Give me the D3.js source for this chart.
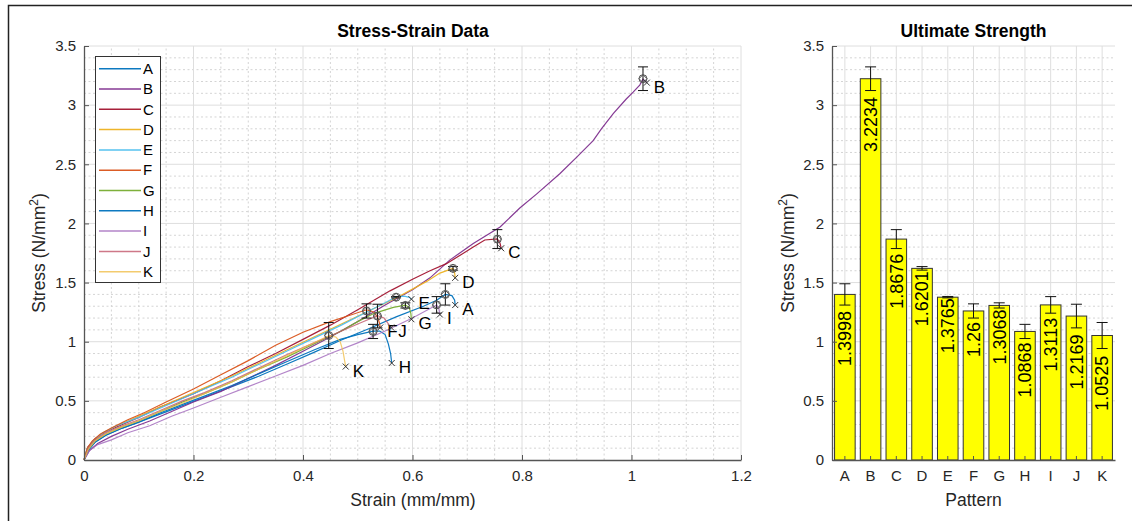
<!DOCTYPE html>
<html>
<head>
<meta charset="utf-8">
<script src="https://cdn.jsdelivr.net/npm/d3@7"></script>
<style>
  body { margin: 0; background: #fff; }
  svg { display: block; font-family: Arial, "Liberation Sans", sans-serif; }
</style>
</head>
<body>
<svg id="chart" width="1132" height="521"></svg>
<script>
// patterns and their ultimate strength (mean) + error
const patterns = ['A', 'B', 'C', 'D', 'E', 'F', 'G', 'H', 'I', 'J', 'K']
const ultStress = [1.3998, 3.2234, 1.8676, 1.6201, 1.3765, 1.26, 1.3068, 1.0868, 1.3113, 1.2169, 1.0525]
const ultErr = [0.09, 0.10, 0.08, 0.015, 0.006, 0.06, 0.022, 0.06, 0.07, 0.10, 0.11]
const ultStrain = [0.66, 1.021, 0.755, 0.674, 0.57, 0.516, 0.587, 0.528, 0.644, 0.536, 0.447]

const lineColors = ['#0072BD', '#7E2F8E', '#A2142F', '#EDB120', '#4DBEEE', '#D95319',
  '#77AC30', '#0072BD', '#A066BC', '#C2566A', '#F0BE4A']

const strainTicks = [0, 0.2, 0.4, 0.6, 0.8, 1, 1.2]
const stressTicks = [0, 0.5, 1, 1.5, 2, 2.5, 3, 3.5]

// stress-strain curves [strain, stress]
const curveA = [[0, 0], [0.008, 0.09], [0.02, 0.15], [0.04, 0.21], [0.07, 0.27], [0.1, 0.32], [0.14, 0.39], [0.18, 0.46],
  [0.22, 0.53], [0.27, 0.62], [0.32, 0.71], [0.37, 0.81], [0.42, 0.91], [0.468, 1.01], [0.52, 1.11], [0.57, 1.21],
  [0.62, 1.3], [0.644, 1.35], [0.66, 1.4], [0.672, 1.39], [0.677, 1.35], [0.678, 1.31]]
const curveB = [[0, 0], [0.01, 0.08], [0.025, 0.14], [0.05, 0.2], [0.08, 0.26], [0.12, 0.33], [0.16, 0.41], [0.2, 0.49],
  [0.25, 0.58], [0.3, 0.69], [0.35, 0.8], [0.4, 0.92], [0.45, 1.04], [0.5, 1.17], [0.55, 1.31], [0.6, 1.44],
  [0.632, 1.54], [0.668, 1.69], [0.711, 1.83], [0.76, 1.97], [0.796, 2.13], [0.827, 2.25], [0.869, 2.42],
  [0.9, 2.56], [0.93, 2.7], [0.945, 2.8], [0.967, 2.93], [0.99, 3.05], [1.003, 3.11], [1.015, 3.17],
  [1.021, 3.22], [1.028, 3.19]]
const curveC = [[0, 0], [0.007, 0.11], [0.02, 0.18], [0.04, 0.24], [0.07, 0.3], [0.1, 0.36], [0.14, 0.45], [0.2, 0.56],
  [0.25, 0.67], [0.3, 0.79], [0.35, 0.9], [0.4, 1.02], [0.45, 1.14], [0.5, 1.27], [0.559, 1.43], [0.601, 1.53],
  [0.632, 1.6], [0.662, 1.66], [0.69, 1.74], [0.711, 1.8], [0.732, 1.86], [0.755, 1.87], [0.76, 1.83], [0.762, 1.79]]
const curveD = [[0, 0], [0.006, 0.1], [0.018, 0.17], [0.035, 0.23], [0.06, 0.29], [0.1, 0.37], [0.14, 0.45], [0.18, 0.53],
  [0.22, 0.61], [0.27, 0.71], [0.32, 0.82], [0.37, 0.93], [0.42, 1.04], [0.47, 1.15], [0.52, 1.26], [0.57, 1.37],
  [0.626, 1.51], [0.65, 1.58], [0.674, 1.62], [0.677, 1.58], [0.678, 1.54]]
const curveE = [[0, 0], [0.006, 0.1], [0.018, 0.17], [0.035, 0.23], [0.06, 0.29], [0.1, 0.36], [0.14, 0.44], [0.18, 0.52],
  [0.22, 0.6], [0.27, 0.7], [0.32, 0.81], [0.37, 0.92], [0.42, 1.03], [0.47, 1.14], [0.52, 1.26], [0.55, 1.33],
  [0.57, 1.38], [0.585, 1.385], [0.594, 1.375], [0.598, 1.36]]
const curveF = [[0, 0], [0.006, 0.1], [0.015, 0.16], [0.03, 0.22], [0.05, 0.27], [0.08, 0.34], [0.11, 0.4], [0.15, 0.49],
  [0.2, 0.6], [0.25, 0.72], [0.3, 0.84], [0.35, 0.97], [0.4, 1.08], [0.45, 1.17], [0.49, 1.23], [0.516, 1.27],
  [0.53, 1.25], [0.537, 1.2], [0.54, 1.15], [0.541, 1.12]]
const curveG = [[0, 0], [0.008, 0.09], [0.02, 0.16], [0.04, 0.22], [0.07, 0.28], [0.1, 0.33], [0.14, 0.41], [0.18, 0.49],
  [0.22, 0.56], [0.27, 0.66], [0.32, 0.77], [0.37, 0.87], [0.42, 0.98], [0.47, 1.09], [0.5, 1.17], [0.53, 1.24],
  [0.565, 1.29], [0.587, 1.31], [0.594, 1.29], [0.597, 1.24], [0.598, 1.19]]
const curveH = [[0, 0], [0.008, 0.08], [0.02, 0.15], [0.04, 0.21], [0.07, 0.27], [0.1, 0.32], [0.14, 0.4], [0.18, 0.47],
  [0.22, 0.54], [0.27, 0.63], [0.32, 0.73], [0.37, 0.83], [0.42, 0.93], [0.468, 1.02], [0.5, 1.06], [0.528, 1.09],
  [0.54, 1.09], [0.55, 1.06], [0.556, 0.98], [0.56, 0.9], [0.562, 0.82]]
const curveI = [[0, 0], [0.01, 0.08], [0.025, 0.13], [0.05, 0.17], [0.08, 0.23], [0.12, 0.29], [0.16, 0.37], [0.2, 0.44],
  [0.25, 0.53], [0.3, 0.62], [0.35, 0.71], [0.4, 0.8], [0.45, 0.9], [0.5, 0.99], [0.55, 1.09], [0.6, 1.2],
  [0.644, 1.31], [0.648, 1.28], [0.65, 1.23]]
const curveJ = [[0, 0], [0.008, 0.1], [0.02, 0.17], [0.04, 0.23], [0.07, 0.29], [0.1, 0.34], [0.14, 0.42], [0.18, 0.5],
  [0.22, 0.57], [0.27, 0.67], [0.32, 0.78], [0.37, 0.89], [0.42, 0.99], [0.46, 1.07], [0.5, 1.15], [0.536, 1.22],
  [0.548, 1.2], [0.556, 1.15], [0.561, 1.12]]
const curveK = [[0, 0], [0.008, 0.09], [0.02, 0.16], [0.04, 0.22], [0.07, 0.28], [0.1, 0.33], [0.14, 0.41], [0.18, 0.48],
  [0.22, 0.56], [0.27, 0.66], [0.32, 0.77], [0.37, 0.88], [0.41, 0.97], [0.447, 1.05], [0.46, 1.04], [0.468, 1.0],
  [0.473, 0.92], [0.476, 0.84], [0.478, 0.79]]

const curves = [curveA, curveB, curveC, curveD, curveE, curveF, curveG, curveH, curveI, curveJ, curveK]

const svg = d3.select('#chart')
const axisColor = '#555'
const textColor = '#262626'

// figure frame
svg.append('path')
  .attr('d', 'M8.5,521 V5.5 H1132')
  .attr('fill', 'none')
  .attr('stroke', '#222')
  .attr('stroke-width', 1.5)

// ---------- left: stress-strain ----------
const x = d3.scaleLinear().domain([0, 1.2]).range([84, 741])
const y = d3.scaleLinear().domain([0, 3.5]).range([460, 46])

const left = svg.append('g')

left.append('g').selectAll('line')
  .data(d3.range(0.05, 1.2, 0.05).filter(v => Math.abs(v / 0.2 - Math.round(v / 0.2)) > 0.01))
  .enter().append('line')
  .attr('x1', d => x(d)).attr('x2', d => x(d))
  .attr('y1', y(0)).attr('y2', y(3.5))
  .attr('stroke', '#d4d4d4').attr('stroke-dasharray', '2,2.5')
left.append('g').selectAll('line')
  .data(d3.range(0.1, 3.5, 0.1).filter(v => Math.abs(v / 0.5 - Math.round(v / 0.5)) > 0.01))
  .enter().append('line')
  .attr('x1', x(0)).attr('x2', x(1.2))
  .attr('y1', d => y(d)).attr('y2', d => y(d))
  .attr('stroke', '#d4d4d4').attr('stroke-dasharray', '2,2.5')
left.append('g').selectAll('line')
  .data(strainTicks.slice(1))
  .enter().append('line')
  .attr('x1', d => x(d)).attr('x2', d => x(d))
  .attr('y1', y(0)).attr('y2', y(3.5))
  .attr('stroke', '#dedede')
left.append('g').selectAll('line')
  .data(stressTicks.slice(1))
  .enter().append('line')
  .attr('x1', x(0)).attr('x2', x(1.2))
  .attr('y1', d => y(d)).attr('y2', d => y(d))
  .attr('stroke', '#dedede')

const line = d3.line().x(d => x(d[0])).y(d => y(d[1]))

left.append('g').selectAll('path')
  .data(curves)
  .enter().append('path')
  .attr('d', line)
  .attr('fill', 'none')
  .attr('stroke', (d, i) => lineColors[i])
  .attr('stroke-width', 1.2)
  .attr('stroke-opacity', (d, i) => i >= 8 ? 0.8 : 0.95)

// ultimate markers with error bars
const ult = left.append('g').selectAll('g')
  .data(patterns)
  .enter().append('g')

ult.append('line')
  .attr('x1', (d, i) => x(ultStrain[i])).attr('x2', (d, i) => x(ultStrain[i]))
  .attr('y1', (d, i) => y(ultStress[i] + ultErr[i])).attr('y2', (d, i) => y(ultStress[i] - ultErr[i]))
  .attr('stroke', '#111')
ult.append('path')
  .attr('d', (d, i) => {
    const cx = x(ultStrain[i])
    const t = y(ultStress[i] + ultErr[i])
    const b = y(ultStress[i] - ultErr[i])
    return `M${cx - 5},${t}H${cx + 5}M${cx - 5},${b}H${cx + 5}`
  })
  .attr('stroke', '#111')
ult.append('circle')
  .attr('cx', (d, i) => x(ultStrain[i]))
  .attr('cy', (d, i) => y(ultStress[i]))
  .attr('r', 4)
  .attr('fill', 'none')
  .attr('stroke', '#555')
ult.append('path')
  .attr('d', (d, i) => {
    const cx = x(ultStrain[i])
    const cy = y(ultStress[i])
    return `M${cx},${cy - 4}L${cx + 4},${cy}L${cx},${cy + 4}L${cx - 4},${cy}Z`
  })
  .attr('fill', 'none')
  .attr('stroke', '#555')

// failure points (last point of every curve) with letters
const fail = left.append('g').selectAll('g')
  .data(curves)
  .enter().append('g')
  .attr('transform', d => `translate(${x(d[d.length - 1][0])},${y(d[d.length - 1][1])})`)

fail.append('path')
  .attr('d', 'M-3,-3L3,3M-3,3L3,-3')
  .attr('stroke', '#333')
fail.append('text')
  .attr('x', 7)
  .attr('y', 4)
  .attr('dy', '0.35em')
  .attr('font-size', 17)
  .attr('fill', '#000')
  .text((d, i) => patterns[i])

// axes
left.append('g')
  .attr('transform', `translate(0,${y(0)})`)
  .call(d3.axisBottom(x).tickValues(strainTicks).tickFormat(d => String(d)).tickSizeInner(-5).tickSizeOuter(0).tickPadding(10))
left.append('g')
  .attr('transform', `translate(${x(0)},0)`)
  .call(d3.axisLeft(y).tickValues(stressTicks).tickFormat(d => String(d)).tickSizeInner(-5).tickSizeOuter(0).tickPadding(8))

// legend
const legend = left.append('g')
legend.append('rect')
  .attr('x', 95.5).attr('y', 56.5)
  .attr('width', 65).attr('height', 226)
  .attr('fill', '#fff')
  .attr('stroke', '#333')
const legItem = legend.selectAll('g.item')
  .data(patterns)
  .enter().append('g')
  .attr('class', 'item')
  .attr('transform', (d, i) => `translate(0,${68.7 + i * 20.3})`)
legItem.append('line')
  .attr('x1', 99).attr('x2', 141)
  .attr('stroke', (d, i) => lineColors[i])
  .attr('stroke-width', 1.5)
  .attr('stroke-opacity', (d, i) => i >= 8 ? 0.8 : 0.95)
legItem.append('text')
  .attr('x', 143).attr('dy', '0.35em')
  .attr('font-size', 15)
  .attr('fill', '#000')
  .text(d => d)

left.append('text')
  .attr('x', 413).attr('y', 37)
  .attr('text-anchor', 'middle')
  .attr('font-weight', 'bold')
  .attr('font-size', 17.5)
  .text('Stress-Strain Data')
left.append('text')
  .attr('x', 413).attr('y', 506)
  .attr('text-anchor', 'middle')
  .attr('font-size', 17.5)
  .attr('fill', textColor)
  .text('Strain (mm/mm)')

// ---------- right: ultimate strength ----------
const xb = d3.scaleBand().domain(patterns).range([832, 1115]).paddingInner(0.2).paddingOuter(0.1)
const yb = d3.scaleLinear().domain([0, 3.5]).range([460, 46])
const right = svg.append('g')

right.append('g').selectAll('line')
  .data(d3.range(0.1, 3.5, 0.1).filter(v => Math.abs(v / 0.5 - Math.round(v / 0.5)) > 0.01))
  .enter().append('line')
  .attr('x1', 832).attr('x2', 1115)
  .attr('y1', d => yb(d)).attr('y2', d => yb(d))
  .attr('stroke', '#d4d4d4').attr('stroke-dasharray', '2,2.5')
right.append('g').selectAll('line')
  .data(stressTicks.slice(1))
  .enter().append('line')
  .attr('x1', 832).attr('x2', 1115)
  .attr('y1', d => yb(d)).attr('y2', d => yb(d))
  .attr('stroke', '#dedede')
right.append('g').selectAll('line')
  .data(patterns)
  .enter().append('line')
  .attr('x1', d => xb(d) + xb.bandwidth() / 2).attr('x2', d => xb(d) + xb.bandwidth() / 2)
  .attr('y1', yb(0)).attr('y2', yb(3.5))
  .attr('stroke', '#dedede')

const bar = right.append('g').selectAll('g')
  .data(patterns)
  .enter().append('g')

bar.append('rect')
  .attr('x', d => xb(d))
  .attr('width', xb.bandwidth())
  .attr('y', (d, i) => yb(ultStress[i]))
  .attr('height', (d, i) => yb(0) - yb(ultStress[i]))
  .attr('fill', '#ffff00')
  .attr('stroke', '#333')
  .attr('stroke-width', 1)

bar.append('text')
  .attr('transform', (d, i) => `translate(${xb(d) + xb.bandwidth() / 2},${yb(ultStress[i] - 1.55 * ultErr[i])}) rotate(-90)`)
  .attr('text-anchor', 'end')
  .attr('dy', '0.35em')
  .attr('font-size', 18)
  .attr('fill', '#000')
  .text((d, i) => String(ultStress[i]))

bar.append('path')
  .attr('d', (d, i) => {
    const cx = xb(d) + xb.bandwidth() / 2
    const t = yb(ultStress[i] + ultErr[i])
    const b = yb(ultStress[i] - ultErr[i])
    return `M${cx},${t}V${b}M${cx - 5.5},${t}H${cx + 5.5}M${cx - 5.5},${b}H${cx + 5.5}`
  })
  .attr('fill', 'none')
  .attr('stroke', '#111')

right.append('g')
  .attr('transform', `translate(0,${yb(0)})`)
  .call(d3.axisBottom(xb).tickSizeInner(-4).tickSizeOuter(0).tickPadding(10))
right.append('g')
  .attr('transform', 'translate(832,0)')
  .call(d3.axisLeft(yb).tickValues(stressTicks).tickFormat(d => String(d)).tickSizeInner(-5).tickSizeOuter(0).tickPadding(8))

right.append('text')
  .attr('x', 973.5).attr('y', 37)
  .attr('text-anchor', 'middle')
  .attr('font-weight', 'bold')
  .attr('font-size', 17.5)
  .text('Ultimate Strength')
right.append('text')
  .attr('x', 973.5).attr('y', 506)
  .attr('text-anchor', 'middle')
  .attr('font-size', 17.5)
  .attr('fill', textColor)
  .text('Pattern')

// y labels with superscript
function stressLabel(g, cx) {
  const t = g.append('text')
    .attr('transform', `translate(${cx},253) rotate(-90)`)
    .attr('text-anchor', 'middle')
    .attr('font-size', 17.5)
    .attr('fill', textColor)
  t.append('tspan').text('Stress (N/mm')
  t.append('tspan').attr('dy', -7).attr('font-size', 12).text('2')
  t.append('tspan').attr('dy', 7).text(')')
}
stressLabel(left, 45)
stressLabel(right, 794)

// style axes
svg.selectAll('.domain').attr('stroke', axisColor).attr('stroke-width', 1.3)
svg.selectAll('.tick line').attr('stroke', axisColor)
svg.selectAll('.tick text').attr('font-size', 15).attr('fill', textColor).attr('font-family', 'Arial, "Liberation Sans", sans-serif')
</script>
</body>
</html>
